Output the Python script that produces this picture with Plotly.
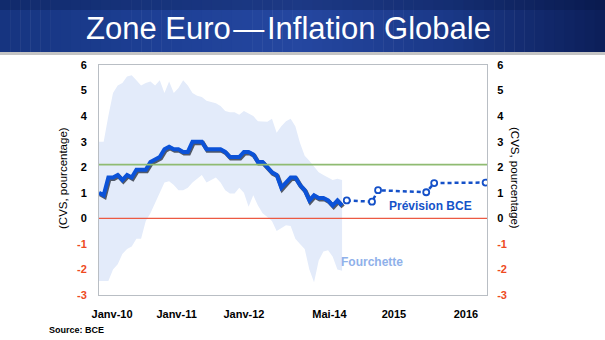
import plotly.graph_objects as go

# ---------------- data ----------------
months_hist = list(range(53))  # Jan 2010 .. May 2014
inflation = [1.0, 0.9, 1.6, 1.6, 1.7, 1.5, 1.7, 1.6, 1.9, 1.9, 1.9, 2.2,
             2.3, 2.4, 2.7, 2.8, 2.7, 2.7, 2.6, 2.6, 3.0, 3.0, 3.0, 2.7,
             2.7, 2.7, 2.7, 2.6, 2.4, 2.4, 2.4, 2.6, 2.6, 2.5, 2.2, 2.2,
             2.0, 1.8, 1.7, 1.2, 1.4, 1.6, 1.6, 1.3, 1.1, 0.7, 0.9, 0.8,
             0.8, 0.7, 0.5, 0.7, 0.5]
band_upper = [3.0, 3.0, 4.0, 4.9, 5.2, 5.3, 5.55, 5.6, 5.4, 5.2, 5.3, 5.35,
              5.2, 5.4, 4.9, 5.35, 4.9, 5.1, 5.4, 5.2, 4.9, 4.8, 4.75, 4.6,
              4.55, 4.5, 4.4, 4.2, 4.15, 4.15, 4.05, 4.2, 4.1, 4.0, 3.8, 3.78,
              3.78, 3.9, 3.35, 3.6, 3.8, 3.9, 3.6, 2.95, 2.45, 2.25, 2.0, 1.8,
              1.7, 1.6, 1.5, 1.55, 1.5]
band_lower = [-2.45, -2.45, -2.45, -2.0, -1.8, -1.4, -1.2, -1.1, -0.8, -0.8, -0.1, 0.2,
              0.6, 1.0, 1.4, 1.45, 1.3, 1.1, 1.1, 1.2, 1.4, 1.55, 1.7, 1.4,
              1.5, 1.6, 1.4, 1.1, 0.97, 0.97, 1.2, 1.0, 0.45, 0.9, 0.5, 0.2,
              0.05, -0.1, -0.5, -0.4, -0.27, -0.3, -0.8, -1.0, -1.2, -2.0, -2.5, -1.65,
              -1.3, -1.25, -1.5, -2.0, -2.05]
proj_months = [53, 58.4, 59.7, 70, 71.7, 82.7]
proj_values = [0.7, 0.65, 1.1, 1.02, 1.38, 1.4]
target_level = 2.1
x_tick_pos = [2.8, 16.6, 31, 49.3, 63.1, 78.5]
x_tick_labels = ["Janv-10", "Janv-11", "Janv-12", "Mai-14", "2015", "2016"]
y_ticks = [-3, -2, -1, 0, 1, 2, 3, 4, 5, 6]

# ---------------- layout geometry ----------------
W, H = 605, 340
L, R, T, B = 99, 487, 65, 295
X_RANGE = [0, 83]
Y_RANGE = [-3, 6]
# shadow axes: same scales shifted by ~1px right / ~1.3px down
DX = (X_RANGE[1] - X_RANGE[0]) / (R - L) * 1.0
DY = (Y_RANGE[1] - Y_RANGE[0]) / (B - T) * 1.3


def px_x(x):
    return (x - L) / (R - L)


def px_y(y):
    return (B - y) / (B - T)


FONT = "Liberation Sans, Arial, Helvetica, sans-serif"
BLUE = "#0b52d8"
NEG = "#ee4a22"

y_ticktext = [f'<span style="color:{NEG}">{v}</span>' if v < 0 else str(v) for v in y_ticks]

fig = go.Figure()

# band (Fourchette)
fig.add_trace(go.Scatter(x=months_hist, y=band_upper, mode="lines",
                         line=dict(width=0, color="#e3ebfa"), hoverinfo="skip",
                         showlegend=False))
fig.add_trace(go.Scatter(x=months_hist, y=band_lower, mode="lines",
                         line=dict(width=0, color="#e3ebfa"), fill="tonexty",
                         fillcolor="#e3ebfa", hoverinfo="skip", showlegend=False))

# projection
fig.add_trace(go.Scatter(x=proj_months, y=proj_values, mode="lines+markers",
                         line=dict(color="#1450c8", width=2.5, dash="4px,3px"),
                         marker=dict(size=6, color="white",
                                     line=dict(color="#1450c8", width=1.8)),
                         showlegend=False))

# main line: dark drop shadow (shifted axes) then blue line on top (unshifted overlay)
fig.add_trace(go.Scatter(x=months_hist, y=inflation, mode="lines",
                         xaxis="x2", yaxis="y3",
                         line=dict(color="rgba(5,10,25,0.65)", width=4.4),
                         showlegend=False, hoverinfo="skip"))
fig.add_trace(go.Scatter(x=months_hist, y=inflation, mode="lines",
                         xaxis="x3", yaxis="y4",
                         line=dict(color=BLUE, width=4.0),
                         showlegend=False))

# invisible trace for right axis
fig.add_trace(go.Scatter(x=[X_RANGE[0]], y=[Y_RANGE[0]], yaxis="y2", mode="markers",
                         marker=dict(opacity=0), showlegend=False, hoverinfo="skip"))

shapes = []
# banner gradient (horizontal strips)
stops = [(0, (22, 52, 127)), (150, (29, 63, 148)), (300, (37, 71, 160)),
         (450, (26, 56, 135)), (605, (12, 30, 88))]


def col_at(x):
    for (x0, c0), (x1, c1) in zip(stops[:-1], stops[1:]):
        if x0 <= x <= x1:
            t = (x - x0) / (x1 - x0)
            return tuple(int(round(a + (b - a) * t)) for a, b in zip(c0, c1))
    return stops[-1][1]


n_strips = 60
for i in range(n_strips):
    x0 = W * i / n_strips
    x1 = W * (i + 1) / n_strips
    c = col_at((x0 + x1) / 2)
    shapes.append(dict(type="rect", xref="paper", yref="paper",
                       x0=px_x(x0), x1=px_x(x1 + 0.5), y0=px_y(52), y1=px_y(0),
                       fillcolor=f"rgb{c}", line=dict(width=0), layer="below"))
# darker top edge of banner
shapes.append(dict(type="rect", xref="paper", yref="paper", x0=px_x(0), x1=px_x(W),
                   y0=px_y(10), y1=px_y(0), fillcolor="rgba(5,15,50,0.25)",
                   line=dict(width=0), layer="below"))
# grey line under banner
shapes.append(dict(type="rect", xref="paper", yref="paper", x0=px_x(0), x1=px_x(W),
                   y0=px_y(55), y1=px_y(52), fillcolor="#c4c4c4",
                   line=dict(width=0), layer="below"))
# reference lines
shapes.append(dict(type="line", xref="x", yref="y", x0=X_RANGE[0], x1=X_RANGE[1],
                   y0=target_level, y1=target_level,
                   line=dict(color="#8fbb72", width=1.6)))
shapes.append(dict(type="line", xref="x", yref="y", x0=X_RANGE[0], x1=X_RANGE[1],
                   y0=0, y1=0, line=dict(color="#ec5a43", width=1.3)))

annotations = [
    dict(text="Zone Euro\u200a\u2014\u200aInflation Globale", xref="paper", yref="paper",
         x=px_x(288), y=px_y(28), xanchor="center", yanchor="middle", showarrow=False,
         font=dict(family=FONT, size=31, color="white")),
    dict(text="(CVS, pourcentage)", xref="paper", yref="paper", x=px_x(63), y=px_y(178),
         xanchor="center", yanchor="middle", textangle=-90, showarrow=False,
         font=dict(family=FONT, size=11.5, color="black")),
    dict(text="(CVS, pourcentage)", xref="paper", yref="paper", x=px_x(515), y=px_y(178),
         xanchor="center", yanchor="middle", textangle=90, showarrow=False,
         font=dict(family=FONT, size=11.5, color="black")),
    dict(text="<b>Prévision BCE</b>", xref="paper", yref="paper", x=px_x(430), y=px_y(206),
         xanchor="center", yanchor="middle", showarrow=False,
         font=dict(family=FONT, size=12, color="#1553c9")),
    dict(text="<b>Fourchette</b>", xref="paper", yref="paper", x=px_x(372), y=px_y(262),
         xanchor="center", yanchor="middle", showarrow=False,
         font=dict(family=FONT, size=12, color="#8fb1ea")),
    dict(text="<b>Source: BCE</b>", xref="paper", yref="paper", x=px_x(47), y=px_y(330),
         xanchor="left", yanchor="middle", showarrow=False,
         font=dict(family=FONT, size=9, color="black")),
]

axis_font = dict(family=FONT, size=11, color="black", weight="bold")

fig.update_layout(
    width=W, height=H,
    margin=dict(l=L, r=W - R, t=T, b=H - B, pad=0),
    paper_bgcolor="white", plot_bgcolor="white",
    showlegend=False,
    shapes=shapes,
    annotations=annotations,
    xaxis=dict(range=X_RANGE, tickmode="array", tickvals=x_tick_pos, ticktext=x_tick_labels,
               showgrid=False, zeroline=False, showline=True, mirror=True,
               linecolor="#b9bec4", linewidth=1, ticks="outside", ticklen=9,
               tickcolor="rgba(0,0,0,0)", tickfont=axis_font),
    xaxis2=dict(range=[X_RANGE[0] - DX, X_RANGE[1] - DX], overlaying="x", visible=False),
    xaxis3=dict(range=X_RANGE, overlaying="x", visible=False),
    yaxis=dict(range=Y_RANGE, tickmode="array", tickvals=y_ticks, ticktext=y_ticktext,
               showgrid=False, zeroline=False, showline=True, mirror=False,
               linecolor="#b9bec4", linewidth=1, ticks="outside", ticklen=9,
               tickcolor="rgba(0,0,0,0)", tickfont=axis_font),
    yaxis2=dict(range=Y_RANGE, overlaying="y", side="right", tickmode="array",
                tickvals=y_ticks, ticktext=y_ticktext, showgrid=False, zeroline=False,
                showline=True, linecolor="#b9bec4", linewidth=1, ticks="outside",
                ticklen=7, tickcolor="rgba(0,0,0,0)", tickfont=axis_font),
    yaxis3=dict(range=[Y_RANGE[0] + DY, Y_RANGE[1] + DY], overlaying="y", visible=False),
    yaxis4=dict(range=Y_RANGE, overlaying="y", visible=False),
)

fig.write_html("out.html")
